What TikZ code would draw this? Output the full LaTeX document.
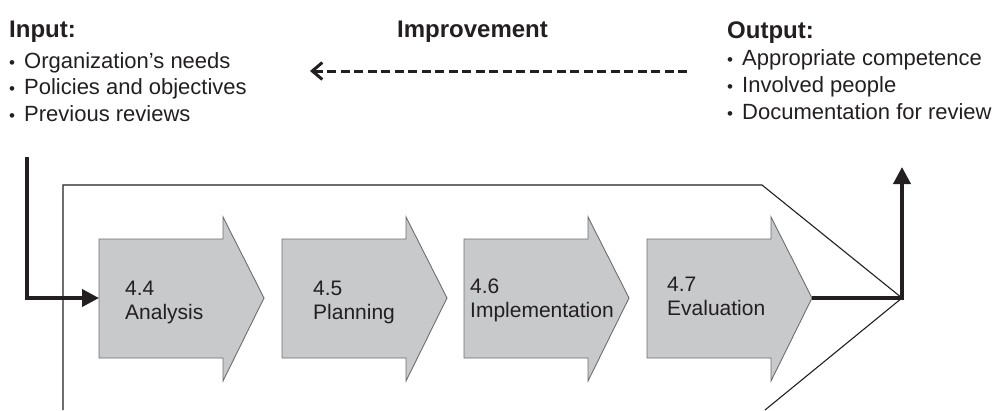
\documentclass[tikz,border=0pt]{standalone}
\usepackage{fontspec}
\setmainfont{Liberation Sans}
\usetikzlibrary{arrows.meta}
\definecolor{stagefill}{RGB}{200,201,203}
\definecolor{stageline}{RGB}{110,110,112}
\definecolor{ink}{RGB}{35,31,32}
\tikzset{
	stagearrow/.style={fill=stagefill, draw=stageline, line width=0.9pt, line join=miter},
	stagetext/.style={anchor=base west, inner sep=0pt, text=ink, font=\fontsize{21}{21}\selectfont},
	heading/.style={anchor=base west, inner sep=0pt, text=ink, font=\fontsize{24}{24}\selectfont\bfseries},
	listitem/.style={anchor=base west, inner sep=0pt, text=ink, font=\fontsize{22}{22}\selectfont},
	frame/.style={draw=ink, line width=1.1pt, line join=miter},
	flow/.style={draw=ink, line width=3.8pt, line join=miter, -{Triangle[length=17pt,width=17pt]}},
	improve/.style={draw=ink, line width=3pt, dash pattern=on 9pt off 4.5pt, -{Straight Barb[length=10pt,width=17pt]}}
}
\newcommand{\bul}{\makebox[15pt][l]{\fontsize{17}{17}\selectfont\textbullet}}
\newcommand{\drawstage}[6]{% x, name, number, title, text dx, first baseline
	\draw[stagearrow] (#1, 239) -- (#1 + 124, 239) -- (#1 + 124, 217) -- (#1 + 165, 298)
		-- (#1 + 124, 381) -- (#1 + 124, 358) -- (#1, 358) -- cycle;
	\coordinate (#2-in) at (#1, 298);
	\coordinate (#2-out) at (#1 + 165, 298);
	\node[stagetext] (#2-num) at (#1 + #5, #6) {#3};
	\node[stagetext] (#2-title) at (#1 + #5, #6 + 24.5) {#4};
}

\begin{document}
\begin{tikzpicture}[x=1pt, y=-1pt]
\useasboundingbox (0, 0) rectangle (995, 410);

% headings
\node[heading] (input) at (9, 37) {Input:};
\node[heading] (improvement) at (397, 37) {Improvement};
\node[heading] (output) at (727, 38) {Output:};

% lists
\foreach \txt [count=\i] in {Organization’s needs, Policies and objectives, Previous reviews}
	\node[listitem] (in-\i) at (9, {68 + 26.5*(\i - 1)}) {\bul\txt};
\foreach \txt [count=\i] in {Appropriate competence, Involved people, Documentation for review}
	\node[listitem] (out-\i) at (727, {65 + 27.2*(\i - 1)}) {\bul\txt};

% improvement loop
\coordinate (imp-start) at (687, 71);
\coordinate (imp-end) at (310, 71);
\draw[improve] (imp-start) -- (imp-end);

% frame
\coordinate (frame-tip) at (902, 298);
\draw[frame] (63, 410) -- (63, 185) -- (762, 185) -- (frame-tip) -- (765, 410);

% stages
\drawstage{99}{an}{4.4}{Analysis}{26}{295};
\drawstage{282}{pl}{4.5}{Planning}{31}{295};
\drawstage{464}{im}{4.6}{Implementation}{6}{293};
\drawstage{647}{ev}{4.7}{Evaluation}{20}{291};

% input and output
\coordinate (in-start) at (27, 157);
\coordinate (out-end) at (902, 167);
\draw[flow] (in-start) |- (an-in);
\draw[flow] (ev-out) -| (out-end);

\end{tikzpicture}
\end{document}
